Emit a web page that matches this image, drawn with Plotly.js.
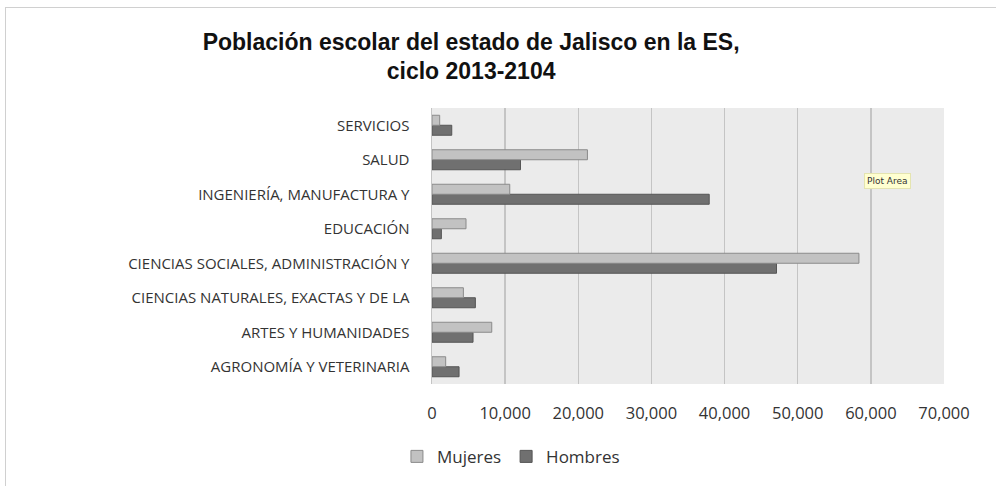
<!DOCTYPE html>
<html>
<head>
<meta charset="utf-8">
<script src="https://cdn.plot.ly/plotly-3.0.1.min.js"></script>
<style>
html,body{margin:0;padding:0;background:#fff;}
#frame{position:absolute;left:5px;top:7px;width:1000px;height:490px;border-top:1px solid #d0d0d0;border-left:1px solid #d0d0d0;}
#chart{position:absolute;left:0;top:0;width:996px;height:486px;}
</style>
</head>
<body>
<div id="frame"></div>
<div id="chart"></div>
<script>
const categories = [
  "AGRONOMÍA Y VETERINARIA",
  "ARTES Y HUMANIDADES",
  "CIENCIAS NATURALES, EXACTAS Y DE LA",
  "CIENCIAS SOCIALES, ADMINISTRACIÓN Y",
  "EDUCACIÓN",
  "INGENIERÍA, MANUFACTURA Y",
  "SALUD",
  "SERVICIOS"
];
const mujeres = [1870, 8170, 4290, 58370, 4650, 10630, 21250, 1050];
const hombres = [3700, 5610, 5930, 47100, 1280, 37900, 12100, 2700];
const xTicks = [0, 10000, 20000, 30000, 40000, 50000, 60000, 70000];
const xTickText = ["0", "10,000", "20,000", "30,000", "40,000", "50,000", "60,000", "70,000"];

const font = "'Open Sans', 'DejaVu Sans', sans-serif";

const traces = [
  {
    type: 'bar', orientation: 'h', name: 'Hombres',
    y: categories, x: hombres,
    marker: {color: '#707070', line: {color: '#555555', width: 1}},
    legendrank: 2, hoverinfo: 'none'
  },
  {
    type: 'bar', orientation: 'h', name: 'Mujeres',
    y: categories, x: mujeres,
    marker: {color: '#c2c2c2', line: {color: '#8a8a8a', width: 1}},
    legendrank: 1, hoverinfo: 'none'
  }
];

const layout = {
  width: 996, height: 486,
  paper_bgcolor: 'rgba(0,0,0,0)',
  plot_bgcolor: '#ebebeb',
  margin: {l: 432, r: 52, t: 108, b: 102, pad: 0},
  barmode: 'group',
  bargap: 0.42,
  bargroupgap: 0,
  font: {family: font, size: 16, color: '#333333'},
  title: {
    text: '<b>Población escolar del estado de Jalisco en la ES,<br>ciclo 2013-2104</b>',
    font: {family: "'Liberation Sans', Arial, sans-serif", size: 23, color: '#111111'},
    x: 0.473, xref: 'container', xanchor: 'center',
    y: 0.898, yref: 'container', yanchor: 'middle'
  },
  xaxis: {
    range: [0, 70000],
    tickvals: xTicks, ticktext: xTickText,
    showgrid: true, gridcolor: '#c4c4c4', gridwidth: 1.5,
    zeroline: false, showline: false,
    ticks: 'outside', ticklen: 14, tickcolor: 'rgba(0,0,0,0)',
    tickfont: {family: font, size: 16.5, color: '#333333'},
    fixedrange: true
  },
  yaxis: {
    type: 'category',
    categoryorder: 'array', categoryarray: categories,
    showgrid: false, zeroline: false,
    showline: true, linecolor: '#c4c4c4', linewidth: 1.5,
    ticks: 'outside', ticklen: 18, tickcolor: 'rgba(0,0,0,0)',
    tickfont: {family: font, size: 15, color: '#333333'},
    fixedrange: true
  },
  legend: {
    orientation: 'h',
    x: 0.513, xref: 'container', xanchor: 'center',
    y: 0.06, yref: 'container', yanchor: 'middle',
    font: {family: font, size: 17, color: '#333333'},
    itemwidth: 30,
    traceorder: 'normal'
  },
  showlegend: true,
  annotations: [{
    text: 'Plot Area',
    xref: 'paper', yref: 'paper',
    x: 0.89, y: 0.735, xanchor: 'center', yanchor: 'middle',
    showarrow: false,
    font: {family: "'DejaVu Sans', sans-serif", size: 9, color: '#333333'},
    bgcolor: '#ffffd0', bordercolor: '#e4e4b0', borderwidth: 1, borderpad: 2
  }]
};

Plotly.newPlot('chart', traces, layout, {displayModeBar: false, staticPlot: true});
</script>
</body>
</html>
